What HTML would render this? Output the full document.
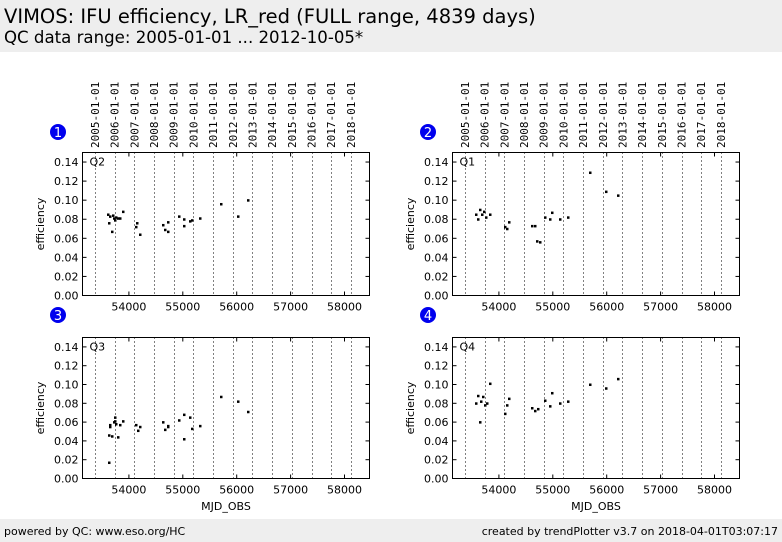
<!DOCTYPE html><html><head><style>
body{margin:0;width:782px;height:542px;background:#fff;overflow:hidden;font-family:"DejaVu Sans","Liberation Sans",sans-serif}
.hd{position:absolute;left:0;top:0;width:782px;height:52px;background:#eeeeee}
.ft{position:absolute;left:0;top:519px;width:782px;height:23px;background:#eeeeee;font-size:11px}
</style></head><body>
<div class="hd"><div style="position:absolute;left:4px;top:5px;font-size:19.5px">VIMOS: IFU efficiency, LR_red (FULL range, 4839 days)</div>
<div style="position:absolute;left:4px;top:28px;font-size:16.6px">QC data range: 2005-01-01 ... 2012-10-05*</div></div>
<svg id="s" width="782" height="542" style="position:absolute;left:0;top:0" xmlns="http://www.w3.org/2000/svg"></svg>
<div class="ft"><span style="position:absolute;left:4px;top:6px">powered by QC: www.eso.org/HC</span><span style="position:absolute;right:4px;top:6px">created by trendPlotter v3.7 on 2018-04-01T03:07:17</span></div>
<script>
var s='';
var mjdY=[53371,53736,54101,54466,54832,55197,55562,55927,56293,56658,57023,57388,57754,58119];
function X(m){return 95+(m-53371)*0.0539;}
var panels=[
{dx:0,y0:152,hh:143,lab:'Q2',n:'1',top:true,bot:false,pts:[[108,.085],[109,.076],[110,.083],[112,.067],[113,.084],[114,.081],[115,.079],[116,.082],[118,.081],[120,.081],[123,.088],[136,.072],[137,.076],[140,.064],[163,.074],[165,.069],[168,.067],[168,.077],[179,.083],[184,.080],[184,.073],[190,.078],[192,.079],[200,.081],[221,.096],[238,.083],[248,.100]]},
{dx:370,y0:152,hh:143,lab:'Q1',n:'2',top:true,bot:false,pts:[[106,.085],[108,.080],[110,.090],[112,.085],[114,.088],[116,.082],[120,.085],[135,.072],[137,.070],[139,.077],[162,.073],[165,.073],[167,.057],[170,.056],[175,.082],[180,.080],[182,.087],[190,.080],[198,.082],[220,.129],[236,.109],[248,.105]]},
{dx:0,y0:337,hh:141,lab:'Q3',n:'3',top:false,bot:true,pts:[[109,.046],[109,.017],[110,.055],[110,.057],[112,.045],[114,.060],[115,.065],[115,.061],[116,.058],[118,.044],[120,.057],[123,.061],[136,.057],[138,.051],[140,.055],[163,.060],[165,.052],[168,.055],[168,.056],[179,.062],[184,.068],[184,.042],[190,.065],[192,.053],[200,.056],[221,.087],[238,.082],[248,.071]]},
{dx:370,y0:337,hh:141,lab:'Q4',n:'4',top:false,bot:true,pts:[[106,.080],[108,.088],[110,.060],[111,.082],[113,.087],[115,.078],[117,.080],[120,.101],[135,.069],[137,.078],[139,.085],[162,.075],[165,.072],[168,.074],[175,.083],[180,.077],[182,.091],[190,.080],[198,.082],[220,.100],[236,.096],[248,.106]]}];
panels.forEach(function(p){
 var L=82.5+p.dx,R=369.5+p.dx,T=p.y0+.5,B=p.y0+p.hh+.5,h=B-T;
 function Y(v){return B-v/0.15*h;}
 mjdY.forEach(function(m){var x=Math.round(X(m)+p.dx)+.5;s+='<line x1="'+x+'" y1="'+T+'" x2="'+x+'" y2="'+B+'" stroke="#000" stroke-dasharray="1,3"/>';});
 for(var i=0;i<=7;i++){var v=i*0.02,y=Y(v);
  s+='<line x1="'+L+'" y1="'+y+'" x2="'+(L+4)+'" y2="'+y+'" stroke="#000"/><line x1="'+R+'" y1="'+y+'" x2="'+(R-4)+'" y2="'+y+'" stroke="#000"/>';
  s+='<text x="'+(L-4)+'" y="'+(y+4)+'" font-size="11" text-anchor="end">'+v.toFixed(2)+'</text>';}
 for(var m=54000;m<=58000;m+=1000){var x=X(m)+p.dx;
  s+='<line x1="'+x+'" y1="'+B+'" x2="'+x+'" y2="'+(B-4)+'" stroke="#000"/><line x1="'+x+'" y1="'+T+'" x2="'+x+'" y2="'+(T+4)+'" stroke="#000"/>';
  s+='<text x="'+x+'" y="'+(B+15)+'" font-size="11" text-anchor="middle">'+m+'</text>';}
 s+='<rect x="'+L+'" y="'+T+'" width="'+(R-L)+'" height="'+h+'" fill="none" stroke="#000"/>';
 s+='<text x="'+(L+7)+'" y="'+(T+13)+'" font-size="11">'+p.lab+'</text>';
 s+='<text transform="translate('+(44+p.dx)+','+(T+h/2)+') rotate(-90)" font-size="11" text-anchor="middle">efficiency</text>';
 if(p.bot)s+='<text x="'+((L+R)/2)+'" y="510" font-size="11" text-anchor="middle">MJD_OBS</text>';
 var cy=p.top?132:315;
 s+='<circle cx="'+(58+p.dx)+'" cy="'+cy+'" r="8" fill="#0000ee"/><text x="'+(58+p.dx)+'" y="'+(cy+5)+'" font-size="13" fill="#fff" text-anchor="middle">'+p.n+'</text>';
 if(p.top)mjdY.forEach(function(m,k){var x=X(m)+p.dx+4;s+='<text transform="translate('+x+',148) rotate(-90)" font-size="11" font-family="DejaVu Sans Mono,monospace">'+(2005+k)+'-01-01</text>';});
 p.pts.forEach(function(q){s+='<rect x="'+(q[0]+p.dx-1)+'" y="'+(Y(q[1])-1)+'" width="2.5" height="2.5" fill="#000"/>';});
});
document.getElementById('s').innerHTML=s;
</script></body></html>
